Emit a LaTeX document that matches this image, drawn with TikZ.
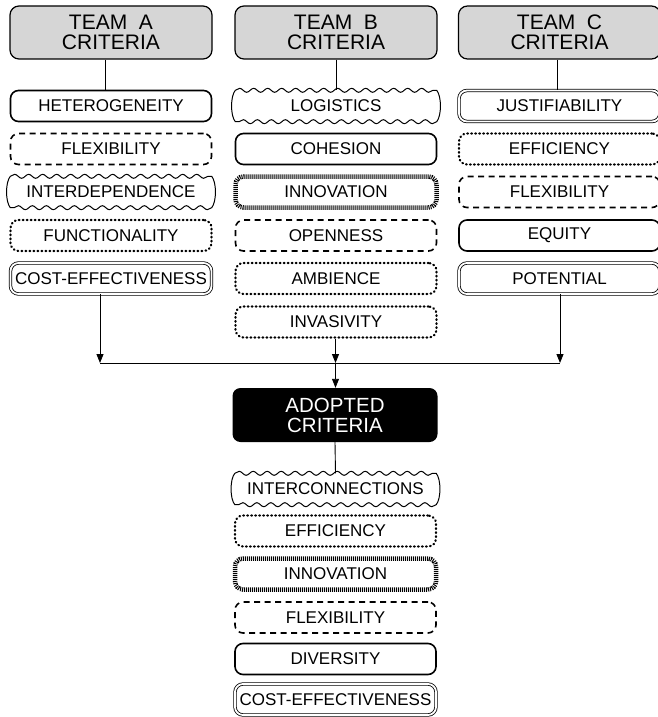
\documentclass[tikz,border=0pt]{standalone}
\usepackage{fontspec}
\setmainfont{Liberation Sans}
\usetikzlibrary{decorations.pathmorphing,arrows.meta}
\newcommand\wavybox[1]{%
  \draw[wavl] (#1.north west) decorate {-- (#1.north east)}
    .. controls +(5,-6) and +(5,6) .. (#1.south east)
    decorate {-- (#1.south west)}
    .. controls +(-5,6) and +(-5,-6) .. (#1.north west);}
\begin{document}
\begin{tikzpicture}[x=1pt,y=1pt,
 hdr/.style={draw, line width=1.2pt, rounded corners=9pt, fill=black!16, minimum width=202pt, minimum height=53pt, inner sep=0pt, align=center, font=\fontsize{21}{19.5}\selectfont},
 itm/.style={rounded corners=8pt, minimum width=201pt, minimum height=31pt, inner sep=0pt, font=\fontsize{17}{20}\selectfont},
 solidb/.style={itm, draw, line width=1.6pt},
 dashb/.style={itm, draw, line width=1.6pt, dash pattern=on 6pt off 4.5pt},
 dotb/.style={itm, draw, line width=2.2pt, line cap=round, dash pattern=on 0.7pt off 3.3pt},
 dblb/.style={itm, draw, double, line width=0.8pt, double distance=1.8pt},
 wavb/.style={itm},
 wavl/.style={line width=1pt, decoration={snake, amplitude=2pt, segment length=14pt}},
 hatb/.style={itm, draw, line width=4.5pt, dash pattern=on 1pt off 1pt},
 adopt/.style={fill=black, rounded corners=8pt, minimum width=205pt, minimum height=54pt, inner sep=0pt, text=white, align=center, font=\fontsize{20.5}{20}\selectfont},
 conn/.style={draw, line width=0.9pt},
 arr/.style={draw, line width=0.9pt, -{Triangle[length=9pt,width=7pt]}}
]
\useasboundingbox (0,0) rectangle (657,-717);

% headers
\node[hdr] (hA) at (111,-32.5) {TEAM\ \ A\\CRITERIA};
\node[hdr] (hB) at (336,-32.5) {TEAM\ \ B\\CRITERIA};
\node[hdr] (hC) at (559.5,-32.5) {TEAM\ \ C\\CRITERIA};

% team A
\node[solidb] (a1) at (111,-106) {HETEROGENEITY};
\node[dashb]  (a2) at (111,-149) {FLEXIBILITY};
\node[wavb]   (a3) at (111,-192) {INTERDEPENDENCE};
\node[dotb]   (a4) at (111,-235.5) {FUNCTIONALITY};
\node[dblb]   (a5) at (111,-278.5) {COST-EFFECTIVENESS};

% team B
\node[wavb]   (b1) at (336,-106) {LOGISTICS};
\node[solidb] (b2) at (336,-149) {COHESION};
\node[hatb]   (b3) at (336,-192) {INNOVATION};
\node[dashb]  (b4) at (336,-235.5) {OPENNESS};
\node[dotb]   (b5) at (336,-278.5) {AMBIENCE};
\node[dotb]   (b6) at (336,-322) {INVASIVITY};

% team C
\node[dblb]   (c1) at (559.5,-106) {JUSTIFIABILITY};
\node[dotb]   (c2) at (559.5,-149) {EFFICIENCY};
\node[dashb]  (c3) at (559.5,-192) {FLEXIBILITY};
\node[solidb] (c4) at (559.5,-235.5) {EQUITY};
\node[dblb]   (c5) at (559.5,-278.5) {POTENTIAL};

% adopted
\node[adopt] (ad) at (335,-415) {ADOPTED\\CRITERIA};
\node[wavb]   (d1) at (335.5,-489) {INTERCONNECTIONS};
\node[dotb]   (d2) at (335.5,-531) {EFFICIENCY};
\node[hatb]   (d3) at (335.5,-574) {INNOVATION};
\node[dashb]  (d4) at (335.5,-617.5) {FLEXIBILITY};
\node[solidb] (d5) at (335.5,-659) {DIVERSITY};
\node[dblb]   (d6) at (335.5,-699.5) {COST-EFFECTIVENESS};

% wavy borders
\wavybox{a3}
\wavybox{b1}
\wavybox{d1}

% connectors header -> first item
\path[conn] ([xshift=-6pt]hA.south) -- ([xshift=-6pt]a1.north);
\path[conn] (hB.south) -- (b1.north);
\path[conn] ([xshift=-2.5pt]hC.south) -- ([xshift=-2.5pt]c1.north);
\path[conn] (ad.south) -- (d1.north);

% junction
\coordinate (jl) at (100,-363);
\coordinate (jr) at (560,-363);
\coordinate (jm) at (335.5,-363);
\path[conn] (jl) -- (jr);
\path[arr] ([xshift=-11pt]a5.south) -- (jl);
\path[arr] (c5.south -| jr) -- (jr);
\path[arr] (b6.south -| jm) -- (jm);
\path[arr] (jm) -- (ad.north -| jm);
\end{tikzpicture}
\end{document}
